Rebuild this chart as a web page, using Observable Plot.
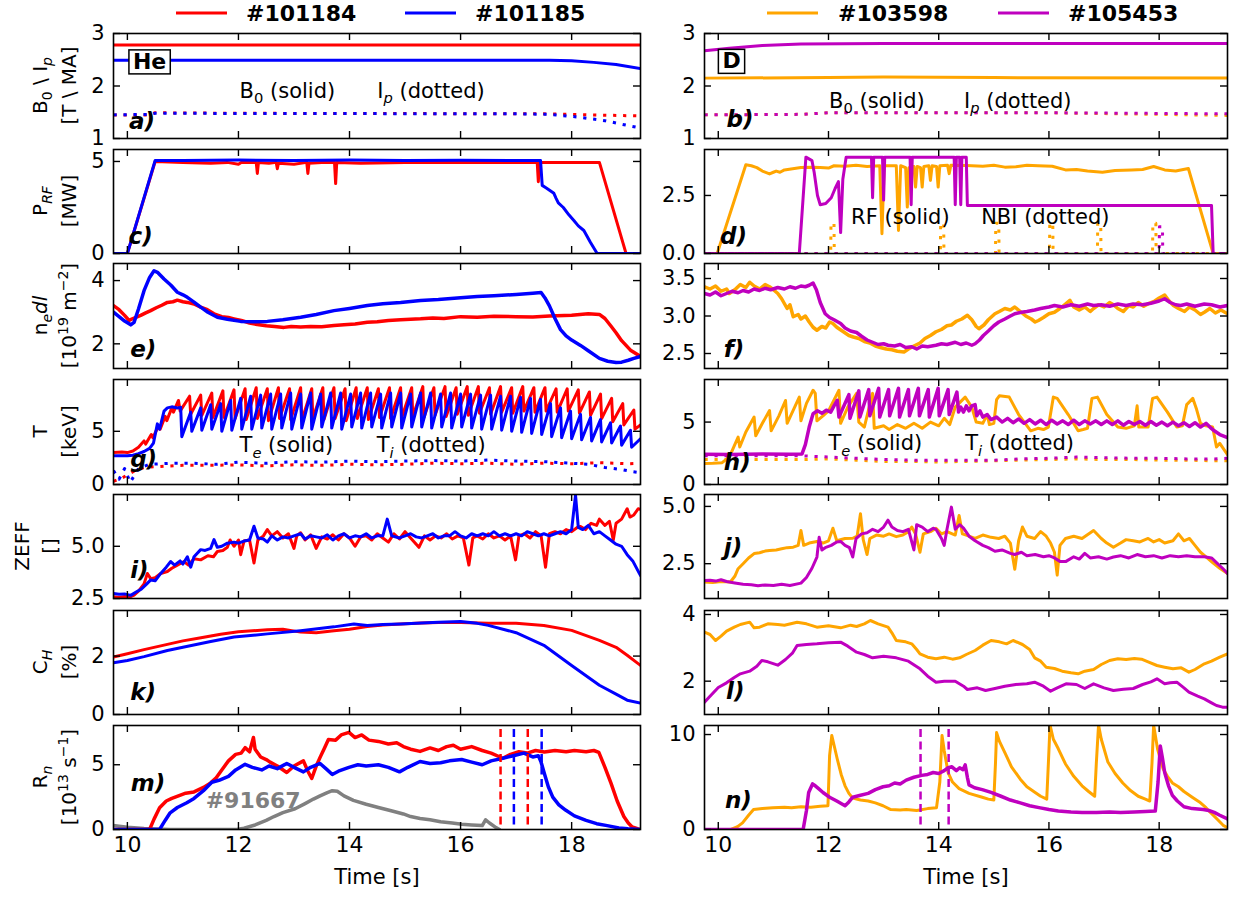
<!DOCTYPE html>
<html><head><meta charset="utf-8">
<script src="https://cdn.jsdelivr.net/npm/d3@7"></script>
<script src="https://cdn.jsdelivr.net/npm/@observablehq/plot@0.6"></script>
<style>
html,body{margin:0;padding:0;background:#fff;}
#root{position:relative;width:1239px;height:897px;overflow:hidden;font-family:"DejaVu Sans",sans-serif;background:#fff;}
#root svg{position:absolute;overflow:visible;}
</style></head><body><div id="root"></div>
<script>
// ---------------- DATA (time [s], value) ----------------
const shots = ["#101184", "#101185", "#103598", "#105453"];
const xTicks = [10, 12, 14, 16, 18];

// a) B0 / Ip (He)
const B0_101184 = [[9.75,2.78],[19.24,2.78]];
const B0_101185 = [[9.75,2.49],[17.6,2.49],[18.0,2.48],[18.4,2.45],[18.8,2.41],[19.24,2.33]];
const Ip_101184 = [[9.75,1.45],[10.4,1.45],[10.5,1.49],[12,1.48],[17.5,1.47],[18.3,1.45],[19.24,1.43]];
const Ip_101185 = [[9.75,1.45],[10.4,1.46],[10.5,1.48],[17.0,1.47],[17.6,1.46],[18.1,1.41],[18.6,1.34],[19.0,1.25],[19.24,1.2]];
// b) B0 / Ip (D)
const B0_103598 = [[9.75,2.15],[12,2.16],[13,2.17],[15,2.16],[19.24,2.15]];
const B0_105453 = [[9.75,2.67],[10.2,2.72],[10.8,2.77],[11.5,2.8],[13,2.81],[19.24,2.81]];
const Ip_103598 = [[9.75,1.45],[11.5,1.46],[12,1.49],[16,1.49],[19.24,1.44]];
const Ip_105453 = [[9.75,1.45],[11.5,1.46],[12,1.49],[16,1.49],[19.24,1.47]];
// c) P_RF
const PRF_101184 = [[9.75,0],[10.0,0],[10.5,5.0],[11.0,4.95],[11.5,4.9],[11.8,4.95],[12.0,4.85],[12.05,4.95],[12.32,4.95],[12.34,4.35],[12.36,4.95],[12.55,4.9],[12.68,4.95],[12.7,4.6],[12.72,4.9],[13.0,4.85],[13.23,4.95],[13.25,4.35],[13.27,4.9],[13.5,4.95],[13.73,4.95],[13.75,3.8],[13.77,4.95],[14.2,4.9],[15,4.95],[16,4.95],[17.38,4.95],[17.4,3.9],[17.42,4.95],[18.0,4.95],[18.5,4.95],[18.98,0],[19.24,0]];
const PRF_101185 = [[9.75,0],[10.0,0],[10.5,5.05],[11,5.05],[12,5.08],[13,5.05],[14,5.08],[15,5.05],[16,5.07],[17,5.05],[17.44,5.05],[17.47,3.7],[17.55,3.55],[17.68,3.27],[17.72,3.0],[17.76,2.75],[17.85,2.5],[17.95,2.1],[18.04,1.79],[18.12,1.5],[18.22,1.25],[18.34,0.6],[18.46,0],[19.24,0]];
// d) RF (solid) and NBI (dotted)
const RF_103598 = [[9.75,0],[9.98,0],[10.5,3.82],[10.6,3.78],[10.7,3.7],[10.8,3.55],[10.93,3.43],[11.0,3.5],[11.05,3.55],[11.12,3.5],[11.2,3.6],[11.35,3.65],[11.5,3.7],[11.7,3.72],[11.85,3.7],[12.0,3.68],[12.1,3.78],[12.3,3.76],[12.5,3.8],[12.7,3.75],[12.93,3.78],[12.97,0.85],[13.01,3.78],[13.23,3.78],[13.27,0.99],[13.31,3.78],[13.4,3.7],[13.43,2.0],[13.46,3.7],[13.55,3.75],[13.58,2.86],[13.61,3.75],[13.67,3.7],[13.7,2.86],[13.73,3.75],[13.82,3.78],[13.85,3.15],[13.88,3.78],[13.96,3.75],[13.99,2.86],[14.02,3.78],[14.16,3.8],[14.19,3.44],[14.22,3.8],[14.5,3.79],[14.8,3.76],[15.0,3.8],[15.2,3.72],[15.4,3.74],[15.6,3.8],[15.8,3.78],[16.06,3.76],[16.3,3.6],[16.5,3.62],[16.7,3.55],[16.97,3.5],[17.2,3.58],[17.5,3.6],[17.7,3.62],[17.9,3.75],[18.1,3.6],[18.3,3.55],[18.53,3.66],[18.98,0],[19.24,0]];
const RF_105453 = [[9.75,0],[11.47,0],[11.59,4.15],[11.7,4.0],[11.74,3.5],[11.8,2.5],[11.85,2.1],[11.95,2.15],[12.05,2.4],[12.12,2.8],[12.18,3.1],[12.22,0.9],[12.26,3.2],[12.32,4.15],[12.78,4.15],[12.8,2.4],[12.82,4.15],[12.98,4.15],[13.0,2.3],[13.02,4.15],[13.48,4.15],[13.5,2.1],[13.52,4.15],[14.28,4.15],[14.3,2.1],[14.32,4.15],[14.38,4.15],[14.4,2.1],[14.42,4.15],[14.5,4.15],[14.52,2.07],[18.95,2.07],[18.98,0],[19.24,0]];
const NBI_103598 = [[9.75,0],[12.04,0],[12.045,1.3],[12.1,1.3],[12.105,0],[14.03,0],[14.035,1.3],[14.09,1.3],[14.095,0],[15.03,0],[15.035,1.3],[15.09,1.3],[15.095,0],[16.01,0],[16.015,1.3],[16.07,1.3],[16.075,0],[16.88,0],[16.885,1.3],[16.94,1.3],[16.945,0],[17.88,0],[17.885,1.3],[17.94,1.3],[17.945,0],[19.24,0]];
const NBI_105453 = [[9.75,0],[18.0,0],[18.005,1.15],[18.06,1.15],[18.065,0],[19.24,0]];
// e) line density
const ne_101184 = [[9.75,3.21],[9.85,3.08],[9.95,2.9],[10.03,2.74],[10.1,2.8],[10.24,2.9],[10.33,2.98],[10.42,3.05],[10.52,3.14],[10.62,3.22],[10.72,3.31],[10.82,3.33],[10.9,3.38],[11.0,3.33],[11.08,3.31],[11.2,3.26],[11.32,3.16],[11.44,3.08],[11.56,2.95],[11.7,2.86],[11.82,2.83],[11.92,2.79],[12.05,2.74],[12.2,2.66],[12.34,2.61],[12.5,2.57],[12.65,2.55],[12.82,2.52],[12.95,2.55],[13.12,2.53],[13.3,2.55],[13.5,2.54],[13.72,2.58],[13.9,2.6],[14.1,2.63],[14.32,2.68],[14.5,2.7],[14.7,2.74],[14.92,2.76],[15.1,2.78],[15.28,2.79],[15.5,2.82],[15.7,2.8],[16.0,2.86],[16.3,2.84],[16.6,2.87],[17.0,2.86],[17.3,2.85],[17.6,2.88],[18.0,2.9],[18.3,2.95],[18.5,2.93],[18.6,2.8],[18.7,2.58],[18.8,2.35],[18.9,2.1],[19.06,1.8],[19.24,1.6]];
const ne_101185 = [[9.75,3.0],[9.85,2.86],[9.95,2.72],[10.06,2.6],[10.12,2.68],[10.2,3.1],[10.3,3.68],[10.4,4.1],[10.48,4.31],[10.55,4.25],[10.66,4.05],[10.78,3.86],[10.9,3.63],[11.0,3.55],[11.08,3.47],[11.2,3.32],[11.32,3.16],[11.45,3.0],[11.62,2.84],[11.8,2.78],[12.04,2.71],[12.3,2.7],[12.52,2.71],[12.8,2.76],[13.12,2.84],[13.4,2.93],[13.72,3.05],[14.0,3.12],[14.32,3.21],[14.6,3.27],[14.92,3.31],[15.28,3.37],[15.6,3.4],[16.0,3.46],[16.3,3.5],[16.6,3.52],[17.0,3.56],[17.3,3.6],[17.45,3.62],[17.52,3.45],[17.6,3.2],[17.7,2.8],[17.8,2.45],[17.9,2.25],[18.0,2.12],[18.16,1.95],[18.3,1.78],[18.5,1.54],[18.65,1.45],[18.8,1.41],[18.9,1.42],[19.02,1.48],[19.12,1.54],[19.24,1.6]];
// f)
const ne_103598 = [[9.75,3.39],[9.85,3.36],[9.95,3.4],[10.05,3.33],[10.15,3.36],[10.2,3.3],[10.3,3.35],[10.4,3.42],[10.5,3.38],[10.57,3.45],[10.65,3.4],[10.75,3.36],[10.85,3.42],[10.93,3.39],[11.0,3.35],[11.08,3.3],[11.15,3.23],[11.25,3.1],[11.3,3.15],[11.36,2.99],[11.45,3.02],[11.5,2.96],[11.58,3.0],[11.65,2.92],[11.72,2.85],[11.79,2.81],[11.88,2.86],[11.95,2.84],[12.02,2.92],[12.08,2.9],[12.15,2.85],[12.25,2.8],[12.37,2.74],[12.45,2.72],[12.55,2.7],[12.65,2.66],[12.75,2.64],[12.85,2.6],[12.94,2.58],[13.05,2.56],[13.15,2.55],[13.25,2.53],[13.37,2.52],[13.45,2.56],[13.55,2.6],[13.66,2.64],[13.75,2.7],[13.85,2.74],[13.95,2.79],[14.05,2.82],[14.15,2.87],[14.23,2.88],[14.32,2.93],[14.42,2.96],[14.52,3.01],[14.6,2.95],[14.68,2.86],[14.73,2.83],[14.82,2.88],[14.9,2.95],[15.02,3.03],[15.1,3.06],[15.2,3.1],[15.3,3.08],[15.38,3.12],[15.48,3.06],[15.58,3.0],[15.68,2.96],[15.75,2.92],[15.81,2.94],[15.9,2.98],[16.0,3.03],[16.1,3.05],[16.2,3.1],[16.3,3.16],[16.38,3.21],[16.45,3.12],[16.55,3.08],[16.65,3.12],[16.75,3.06],[16.81,3.1],[16.9,3.15],[17.0,3.12],[17.1,3.18],[17.17,3.15],[17.25,3.1],[17.35,3.06],[17.45,3.14],[17.53,3.12],[17.62,3.18],[17.72,3.13],[17.82,3.17],[17.92,3.2],[18.0,3.24],[18.1,3.28],[18.18,3.2],[18.26,3.14],[18.35,3.1],[18.46,3.06],[18.55,3.12],[18.65,3.08],[18.75,3.02],[18.82,3.05],[18.92,3.1],[19.02,3.04],[19.12,3.08],[19.24,3.03]];
const ne_105453 = [[9.75,3.3],[9.85,3.28],[9.95,3.32],[10.05,3.27],[10.15,3.3],[10.25,3.33],[10.36,3.31],[10.45,3.34],[10.55,3.32],[10.65,3.36],[10.75,3.34],[10.85,3.37],[10.95,3.35],[11.08,3.38],[11.2,3.36],[11.3,3.39],[11.4,3.37],[11.5,3.4],[11.58,3.39],[11.65,3.41],[11.72,3.44],[11.78,3.35],[11.85,3.18],[11.94,3.03],[12.02,2.98],[12.1,2.95],[12.22,2.9],[12.3,2.84],[12.4,2.8],[12.51,2.78],[12.6,2.73],[12.7,2.68],[12.8,2.65],[12.9,2.62],[13.0,2.63],[13.08,2.61],[13.2,2.6],[13.3,2.62],[13.4,2.58],[13.51,2.59],[13.6,2.56],[13.7,2.6],[13.8,2.59],[13.95,2.61],[14.05,2.63],[14.15,2.62],[14.3,2.65],[14.4,2.62],[14.5,2.64],[14.6,2.61],[14.66,2.63],[14.74,2.68],[14.81,2.74],[14.9,2.8],[15.0,2.87],[15.09,2.92],[15.2,2.96],[15.3,3.0],[15.38,3.03],[15.5,3.05],[15.6,3.06],[15.74,3.08],[15.85,3.1],[16.0,3.12],[16.1,3.14],[16.25,3.12],[16.4,3.15],[16.55,3.13],[16.7,3.16],[16.81,3.14],[16.95,3.15],[17.1,3.13],[17.25,3.16],[17.4,3.14],[17.53,3.16],[17.7,3.15],[17.85,3.17],[18.0,3.2],[18.1,3.23],[18.2,3.18],[18.3,3.15],[18.39,3.14],[18.5,3.16],[18.65,3.13],[18.82,3.16],[18.95,3.15],[19.1,3.12],[19.24,3.14]];
// g) Te (solid), Ti (dotted)
const Te_101184 = [[9.75,3.0],[9.9,3.05],[10.0,3.0],[10.1,3.15],[10.2,3.5],[10.3,4.1],[10.33,3.8],[10.43,4.7],[10.46,4.4],[10.56,5.5],[10.59,5.2],[10.68,6.4],[10.71,6.0],[10.8,7.2],[10.83,6.8],[10.92,7.9],[10.95,6.9],[11.12,8.3],[11.14,6.6],[11.32,8.4],[11.34,6.5],[11.52,8.6],[11.54,6.3],[11.72,8.8],[11.74,6.3],[11.92,8.9],[11.94,6.2],[12.12,9.0],[12.14,6.1],[12.32,9.1],[12.34,6.2],[12.52,9.0],[12.54,6.0],[12.72,9.1],[12.74,6.2],[12.92,9.0],[12.94,6.1],[13.12,9.1],[13.14,6.0],[13.32,9.0],[13.34,6.2],[13.52,9.1],[13.54,6.1],[13.72,9.1],[13.74,6.2],[13.92,9.0],[13.94,6.0],[14.12,9.1],[14.14,6.2],[14.32,9.1],[14.34,6.1],[14.52,9.0],[14.54,6.3],[14.72,9.1],[14.74,6.2],[14.92,9.1],[14.94,6.3],[15.12,9.1],[15.14,6.4],[15.32,9.2],[15.34,6.3],[15.52,9.1],[15.54,6.5],[15.72,9.2],[15.74,6.4],[15.92,9.1],[15.94,6.6],[16.12,9.2],[16.14,6.5],[16.32,9.2],[16.34,6.7],[16.52,9.1],[16.54,6.6],[16.72,9.2],[16.74,6.8],[16.92,9.1],[16.94,6.7],[17.12,9.2],[17.14,6.9],[17.32,9.1],[17.34,6.8],[17.52,9.1],[17.54,6.9],[17.72,9.0],[17.74,6.8],[17.92,9.0],[17.94,6.9],[18.12,8.9],[18.14,6.7],[18.32,8.7],[18.34,6.5],[18.52,8.5],[18.54,6.2],[18.72,8.1],[18.74,5.9],[18.92,7.6],[18.94,5.6],[19.12,7.0],[19.14,5.2],[19.24,5.6]];
const Te_101185 = [[9.75,2.7],[10.0,2.7],[10.1,2.75],[10.2,2.9],[10.3,3.1],[10.4,3.4],[10.47,3.9],[10.54,5.7],[10.58,5.2],[10.66,6.9],[10.72,7.2],[10.8,7.3],[10.9,7.2],[10.96,7.25],[10.98,4.5],[11.14,6.8],[11.16,5.0],[11.32,7.2],[11.34,5.1],[11.5,7.5],[11.52,5.2],[11.68,7.6],[11.7,5.0],[11.86,7.9],[11.88,5.1],[12.04,8.1],[12.06,5.2],[12.22,8.3],[12.24,5.2],[12.4,8.4],[12.42,5.3],[12.58,8.5],[12.6,5.2],[12.76,8.5],[12.78,5.3],[12.94,8.6],[12.96,5.2],[13.12,8.5],[13.14,5.3],[13.3,8.6],[13.32,5.2],[13.48,8.5],[13.5,5.4],[13.66,8.6],[13.68,5.3],[13.84,8.6],[13.86,5.2],[14.02,8.5],[14.04,5.4],[14.2,8.6],[14.22,5.3],[14.38,8.6],[14.4,5.4],[14.56,8.5],[14.58,5.3],[14.74,8.6],[14.76,5.4],[14.92,8.6],[14.94,5.3],[15.1,8.5],[15.12,5.4],[15.28,8.6],[15.3,5.4],[15.46,8.6],[15.48,5.3],[15.64,8.5],[15.66,5.4],[15.82,8.6],[15.84,5.3],[16.0,8.5],[16.02,5.4],[16.18,8.5],[16.2,5.3],[16.36,8.4],[16.38,5.2],[16.54,8.4],[16.56,5.2],[16.72,8.3],[16.74,5.1],[16.9,8.3],[16.92,5.0],[17.08,8.2],[17.1,4.9],[17.26,8.1],[17.28,4.8],[17.44,8.0],[17.46,4.7],[17.62,7.6],[17.64,4.5],[17.8,7.2],[17.82,4.4],[17.98,6.9],[18.0,4.3],[18.16,6.6],[18.18,4.2],[18.34,6.3],[18.36,4.1],[18.52,6.1],[18.54,4.0],[18.7,5.8],[18.72,3.9],[18.88,5.5],[18.9,3.7],[19.06,5.1],[19.08,3.5],[19.24,4.3]];
const Ti_101184 = [[9.75,0.3],[9.9,0.6],[10.1,1.2],[10.3,1.6],[10.6,1.7],[11,1.8],[11.5,1.8],[12,1.85],[12.5,1.75],[13,1.85],[13.5,1.8],[14,1.9],[14.5,1.85],[15,1.9],[15.5,2.0],[16,1.95],[16.5,2.0],[17,1.9],[17.5,2.0],[18,1.95],[18.5,2.05],[19,1.95],[19.24,2.0]];
const Ti_101185 = [[9.75,1.3],[9.85,0.5],[9.95,1.5],[10.05,0.2],[10.2,1.5],[10.4,1.9],[10.8,2.0],[11.2,2.0],[11.6,1.9],[12,2.1],[12.5,2.0],[13,2.15],[13.5,2.1],[14,2.2],[14.5,2.15],[15,2.2],[15.5,2.25],[16,2.2],[16.5,2.3],[17,2.2],[17.5,2.15],[18,2.0],[18.3,1.9],[18.6,1.6],[18.9,1.4],[19.1,1.2],[19.24,1.1]];
// h)
const Te_103598 = [[9.75,1.68],[9.9,1.7],[10.07,1.75],[10.2,2.2],[10.36,3.8],[10.39,3.0],[10.5,4.2],[10.65,5.4],[10.68,3.9],[10.8,4.9],[10.93,5.93],[10.96,4.3],[11.1,5.5],[11.22,6.73],[11.25,4.9],[11.47,7.0],[11.5,5.1],[11.6,6.5],[11.72,7.55],[11.76,7.3],[11.79,5.1],[11.9,5.5],[12.0,5.9],[12.19,7.55],[12.22,4.9],[12.35,6.2],[12.51,7.3],[12.55,5.0],[12.65,4.6],[12.8,7.3],[12.83,4.5],[13.0,4.7],[13.1,4.4],[13.25,4.8],[13.4,4.5],[13.55,4.9],[13.7,4.5],[13.85,5.0],[14.0,4.7],[14.1,5.3],[14.2,4.8],[14.3,6.2],[14.48,7.0],[14.6,6.2],[14.68,5.0],[14.8,4.9],[14.88,5.6],[14.92,4.8],[15.0,4.9],[15.05,6.8],[15.1,7.1],[15.28,7.0],[15.45,5.6],[15.67,4.3],[15.8,4.5],[15.9,4.4],[15.99,4.6],[16.08,7.0],[16.15,6.9],[16.35,5.6],[16.53,4.3],[16.62,4.4],[16.7,4.5],[16.78,6.9],[16.88,7.0],[17.05,5.6],[17.25,4.6],[17.4,4.5],[17.55,4.7],[17.6,6.3],[17.63,4.6],[17.8,4.6],[17.88,6.9],[17.96,7.0],[18.15,5.8],[18.32,4.6],[18.42,4.7],[18.5,6.4],[18.61,6.9],[18.68,6.0],[18.75,4.9],[18.85,4.7],[18.97,4.6],[19.04,3.0],[19.1,3.3],[19.24,2.4]];
const Te_105453 = [[9.75,2.42],[10.2,2.4],[10.8,2.44],[11.3,2.42],[11.52,2.45],[11.58,3.2],[11.65,4.6],[11.72,5.67],[11.8,5.9],[11.88,5.7],[11.96,5.95],[12.04,5.8],[12.1,6.3],[12.16,6.75],[12.19,5.4],[12.37,7.2],[12.39,5.3],[12.55,7.5],[12.57,5.4],[12.73,7.6],[12.75,5.5],[12.91,7.7],[12.93,5.4],[13.09,7.6],[13.11,5.5],[13.27,7.7],[13.29,5.4],[13.45,7.6],[13.47,5.5],[13.63,7.7],[13.65,5.5],[13.81,7.6],[13.83,5.4],[13.99,7.7],[14.01,5.5],[14.17,7.6],[14.19,5.6],[14.33,7.4],[14.36,5.8],[14.4,6.2],[14.45,5.8],[14.5,6.3],[14.55,5.9],[14.6,6.3],[14.66,6.4],[14.69,5.5],[14.75,5.9],[14.8,5.4],[14.88,5.6],[14.95,5.2],[15.05,5.4],[15.15,5.0],[15.25,5.3],[15.35,4.95],[15.45,5.25],[15.55,4.9],[15.65,5.2],[15.75,4.85],[15.85,5.15],[15.95,4.8],[16.05,5.15],[16.15,4.85],[16.25,5.1],[16.35,4.8],[16.45,5.15],[16.55,4.8],[16.65,5.1],[16.75,4.85],[16.85,5.1],[16.95,4.8],[17.05,5.1],[17.15,4.8],[17.25,5.1],[17.35,4.75],[17.45,5.05],[17.55,4.8],[17.65,5.05],[17.75,4.75],[17.85,5.05],[17.95,4.75],[18.05,5.0],[18.15,4.7],[18.25,5.0],[18.35,4.7],[18.45,4.95],[18.55,4.65],[18.65,4.95],[18.75,4.6],[18.85,4.9],[18.92,4.6],[19.0,4.3],[19.1,4.0],[19.24,3.75]];
const Ti_103598 = [[9.75,2.0],[11.5,2.0],[12,2.05],[12.5,1.95],[13,1.85],[13.5,1.85],[14,1.8],[14.5,1.85],[15,1.9],[15.5,1.95],[16,2.0],[16.5,2.05],[17,2.0],[17.5,2.0],[18,1.95],[18.5,1.95],[19,1.9],[19.24,1.9]];
const Ti_105453 = [[9.75,2.3],[11.5,2.3],[12,2.2],[12.5,2.1],[13,2.0],[13.5,1.95],[14,1.95],[14.5,1.95],[15,1.95],[15.5,2.05],[16,2.1],[16.5,2.2],[17,2.15],[17.5,2.1],[18,2.1],[18.5,2.05],[19,2.05],[19.24,2.1]];
// i) ZEFF
const Z_101184 = [[9.75,2.58],[9.85,2.55],[9.95,2.6],[10.05,2.58],[10.12,2.66],[10.2,2.85],[10.3,3.2],[10.36,3.7],[10.42,3.45],[10.5,3.5],[10.6,3.7],[10.72,3.79],[10.8,3.95],[10.9,4.1],[11.02,4.27],[11.1,4.1],[11.2,4.4],[11.32,4.35],[11.45,4.55],[11.55,4.5],[11.62,4.75],[11.72,4.8],[11.8,4.95],[11.85,5.3],[11.92,5.0],[12.0,5.3],[12.04,4.6],[12.1,5.25],[12.2,5.3],[12.28,4.2],[12.35,5.3],[12.45,5.5],[12.52,5.8],[12.6,5.5],[12.7,5.7],[12.8,5.4],[12.9,5.6],[13.0,4.9],[13.05,5.5],[13.12,5.65],[13.2,5.3],[13.3,5.55],[13.4,4.9],[13.5,5.45],[13.6,5.35],[13.7,5.55],[13.8,5.3],[13.9,5.6],[14.0,5.4],[14.1,5.0],[14.2,5.45],[14.3,5.5],[14.4,5.3],[14.5,5.6],[14.6,5.4],[14.7,5.2],[14.8,5.6],[14.9,5.35],[15.0,5.7],[15.1,5.4],[15.25,4.95],[15.35,5.5],[15.45,5.3],[15.55,5.5],[15.65,5.4],[15.75,5.6],[15.85,5.35],[15.95,5.5],[16.05,5.4],[16.15,4.1],[16.22,5.4],[16.3,5.5],[16.4,5.35],[16.5,5.6],[16.6,5.4],[16.7,5.5],[16.8,5.3],[16.9,5.5],[16.99,4.35],[17.05,5.5],[17.15,5.6],[17.25,5.4],[17.35,5.7],[17.45,5.5],[17.53,4.0],[17.6,5.6],[17.7,5.7],[17.8,5.6],[17.9,5.8],[18.0,5.7],[18.1,5.9],[18.16,5.95],[18.25,5.8],[18.35,6.1],[18.45,6.0],[18.5,6.3],[18.6,6.0],[18.68,6.2],[18.75,5.3],[18.8,6.1],[18.9,6.3],[19.0,6.8],[19.05,6.4],[19.12,6.5],[19.2,6.8],[19.24,6.77]];
const Z_101185 = [[9.75,2.74],[9.85,2.7],[9.95,2.72],[10.06,2.65],[10.15,2.8],[10.25,2.95],[10.35,3.2],[10.42,3.39],[10.5,3.35],[10.6,3.7],[10.7,4.0],[10.78,4.27],[10.85,4.1],[10.95,4.3],[11.0,4.15],[11.08,4.5],[11.14,4.0],[11.2,4.5],[11.32,4.84],[11.4,4.8],[11.5,4.9],[11.56,5.32],[11.62,4.95],[11.7,5.0],[11.8,5.15],[11.92,5.2],[12.0,5.15],[12.1,5.25],[12.2,5.3],[12.28,5.96],[12.35,5.4],[12.45,5.35],[12.52,5.2],[12.6,5.5],[12.7,5.3],[12.8,5.45],[12.9,5.4],[13.0,5.5],[13.12,5.6],[13.2,5.35],[13.3,5.5],[13.4,5.45],[13.5,5.4],[13.6,5.55],[13.7,5.3],[13.8,5.5],[13.9,5.6],[14.0,5.4],[14.1,5.5],[14.2,5.45],[14.3,5.6],[14.4,5.4],[14.5,5.5],[14.6,5.5],[14.68,6.3],[14.76,5.5],[14.9,5.4],[15.0,5.5],[15.1,5.6],[15.2,5.45],[15.3,5.4],[15.4,5.5],[15.5,5.6],[15.6,5.4],[15.7,5.5],[15.8,5.5],[15.9,5.7],[16.0,5.5],[16.1,5.4],[16.2,5.6],[16.3,5.5],[16.4,5.6],[16.5,5.5],[16.6,5.7],[16.7,5.5],[16.8,5.6],[16.9,5.5],[17.0,5.6],[17.1,5.5],[17.2,5.7],[17.3,5.6],[17.4,5.5],[17.5,5.6],[17.6,5.5],[17.7,5.6],[17.8,5.7],[17.9,5.6],[18.0,5.8],[18.07,7.45],[18.12,5.9],[18.2,5.8],[18.3,6.0],[18.4,5.6],[18.5,5.7],[18.6,5.5],[18.7,5.3],[18.8,5.1],[18.9,5.0],[19.0,4.6],[19.1,4.3],[19.24,3.6]];
// j)
const Z_103598 = [[9.75,1.7],[9.9,1.68],[10.05,1.72],[10.22,1.7],[10.3,1.95],[10.36,2.28],[10.45,2.5],[10.55,2.75],[10.65,2.94],[10.75,2.98],[10.85,3.05],[10.93,3.08],[11.05,3.1],[11.15,3.15],[11.25,3.2],[11.36,3.22],[11.45,3.3],[11.5,3.95],[11.55,3.3],[11.65,3.4],[11.79,3.47],[11.9,3.4],[12.0,3.5],[12.08,4.05],[12.15,3.5],[12.3,3.6],[12.44,3.61],[12.52,3.7],[12.58,4.68],[12.63,3.55],[12.7,2.9],[12.75,3.6],[12.87,3.75],[13.0,3.7],[13.1,3.8],[13.23,3.68],[13.35,3.75],[13.45,3.9],[13.51,4.1],[13.58,3.8],[13.66,3.0],[13.72,3.8],[13.85,3.9],[13.95,4.05],[14.05,3.8],[14.15,3.9],[14.3,3.75],[14.37,4.6],[14.43,3.8],[14.55,3.7],[14.66,3.6],[14.8,3.75],[14.95,3.65],[15.09,3.6],[15.2,3.7],[15.3,3.4],[15.38,2.26],[15.45,3.5],[15.52,4.1],[15.6,3.7],[15.74,3.6],[15.85,3.9],[15.95,3.7],[16.03,3.4],[16.1,3.0],[16.15,2.0],[16.2,3.3],[16.3,3.6],[16.45,3.7],[16.6,3.6],[16.81,3.95],[16.95,3.6],[17.05,3.4],[17.17,3.22],[17.3,3.4],[17.4,3.55],[17.53,3.5],[17.65,3.45],[17.8,3.6],[17.9,3.45],[18.0,3.55],[18.1,3.4],[18.25,3.5],[18.35,3.8],[18.45,3.5],[18.55,3.6],[18.65,3.3],[18.75,3.0],[18.85,2.8],[18.97,2.55],[19.1,2.3],[19.24,2.07]];
const Z_105453 = [[9.75,1.77],[9.85,1.78],[9.95,1.74],[10.05,1.8],[10.15,1.72],[10.3,1.66],[10.45,1.6],[10.6,1.58],[10.72,1.54],[10.85,1.57],[11.0,1.55],[11.15,1.6],[11.3,1.55],[11.5,1.65],[11.6,1.9],[11.7,2.3],[11.79,2.79],[11.83,3.65],[11.88,3.1],[11.94,3.2],[12.05,3.3],[12.15,3.45],[12.22,3.47],[12.3,3.3],[12.38,3.2],[12.44,2.79],[12.5,3.6],[12.6,3.8],[12.7,3.85],[12.8,4.0],[12.9,3.9],[13.0,4.1],[13.08,4.4],[13.15,4.1],[13.25,3.95],[13.35,3.9],[13.45,4.0],[13.55,3.1],[13.6,4.2],[13.7,4.1],[13.8,3.9],[13.9,4.05],[13.95,4.0],[14.05,3.6],[14.1,3.3],[14.15,4.0],[14.23,4.97],[14.3,4.0],[14.38,4.2],[14.45,4.05],[14.55,3.7],[14.66,3.5],[14.8,3.3],[14.9,3.2],[15.02,3.04],[15.15,3.1],[15.3,2.95],[15.38,2.9],[15.5,3.0],[15.6,2.85],[15.75,2.9],[15.9,2.8],[16.0,2.85],[16.1,2.75],[16.2,2.6],[16.31,2.6],[16.45,2.8],[16.55,2.7],[16.65,2.95],[16.75,2.75],[16.9,2.8],[17.05,2.7],[17.17,2.79],[17.3,2.85],[17.45,2.75],[17.6,2.9],[17.75,2.8],[17.9,2.85],[18.05,2.75],[18.2,2.85],[18.35,2.8],[18.5,2.85],[18.65,2.8],[18.82,2.8],[18.95,2.75],[19.04,2.55],[19.15,2.3],[19.24,2.07]];
// k) C_H
const CH_101184 = [[9.75,1.97],[10.0,2.08],[10.3,2.22],[10.72,2.4],[11.0,2.52],[11.3,2.62],[11.68,2.75],[12.0,2.83],[12.52,2.9],[12.8,2.92],[13.12,2.82],[13.4,2.8],[13.72,2.87],[14.0,2.92],[14.32,3.01],[14.6,3.06],[14.92,3.1],[15.3,3.13],[15.6,3.15],[16.0,3.15],[16.5,3.12],[17.0,3.12],[17.5,3.05],[18.0,2.88],[18.5,2.54],[18.8,2.3],[19.0,2.03],[19.24,1.68]];
const CH_101185 = [[9.75,1.77],[10.0,1.85],[10.3,1.98],[10.72,2.19],[11.0,2.3],[11.5,2.5],[11.92,2.65],[12.52,2.76],[13.12,2.87],[13.72,3.0],[14.08,3.1],[14.32,3.05],[14.6,3.08],[14.92,3.1],[15.3,3.13],[15.6,3.16],[16.0,3.18],[16.3,3.12],[16.5,3.05],[17.0,2.8],[17.5,2.37],[18.0,1.68],[18.5,1.0],[18.8,0.7],[19.0,0.49],[19.24,0.39]];
// l)
const CH_103598 = [[9.75,3.47],[9.85,3.4],[9.95,3.22],[10.05,3.35],[10.15,3.5],[10.29,3.62],[10.4,3.7],[10.57,3.77],[10.65,3.6],[10.75,3.62],[10.9,3.72],[11.08,3.7],[11.2,3.68],[11.43,3.77],[11.6,3.72],[11.79,3.62],[12.0,3.66],[12.22,3.6],[12.4,3.68],[12.51,3.64],[12.65,3.72],[12.76,3.82],[12.9,3.72],[13.08,3.62],[13.15,3.45],[13.23,3.22],[13.4,3.18],[13.51,3.12],[13.6,2.95],[13.66,2.82],[13.8,2.72],[13.95,2.67],[14.1,2.72],[14.25,2.66],[14.38,2.7],[14.5,2.8],[14.66,2.92],[14.8,3.08],[14.95,3.22],[15.1,3.18],[15.23,3.12],[15.35,3.22],[15.52,3.1],[15.65,2.95],[15.74,2.7],[15.85,2.6],[15.95,2.42],[16.1,2.38],[16.24,2.3],[16.4,2.25],[16.53,2.22],[16.65,2.3],[16.81,2.35],[16.95,2.5],[17.1,2.62],[17.25,2.67],[17.4,2.65],[17.55,2.68],[17.68,2.66],[17.8,2.58],[17.96,2.47],[18.1,2.42],[18.25,2.37],[18.4,2.4],[18.54,2.27],[18.65,2.35],[18.82,2.52],[18.95,2.6],[19.1,2.72],[19.24,2.82]];
const CH_105453 = [[9.75,1.37],[9.85,1.55],[10.0,1.81],[10.15,1.95],[10.29,2.11],[10.4,2.22],[10.57,2.3],[10.7,2.45],[10.79,2.62],[10.9,2.58],[11.08,2.48],[11.22,2.65],[11.35,2.85],[11.43,3.07],[11.6,3.1],[11.79,3.12],[12.0,3.15],[12.22,3.17],[12.35,3.05],[12.51,2.87],[12.65,2.8],[12.8,2.7],[13.0,2.75],[13.23,2.7],[13.45,2.6],[13.66,2.37],[13.8,2.15],[13.95,1.97],[14.1,2.0],[14.3,2.0],[14.45,1.85],[14.52,1.75],[14.7,1.8],[14.85,1.72],[15.02,1.78],[15.2,1.85],[15.4,1.9],[15.6,1.92],[15.74,1.97],[15.9,1.85],[16.03,1.7],[16.15,1.8],[16.31,1.92],[16.5,1.9],[16.65,1.78],[16.81,1.92],[17.0,1.8],[17.17,1.72],[17.35,1.76],[17.53,1.78],[17.7,1.9],[17.85,1.98],[17.96,2.07],[18.1,1.92],[18.2,1.95],[18.32,1.97],[18.45,1.8],[18.54,1.67],[18.7,1.55],[18.82,1.47],[18.95,1.35],[19.04,1.27],[19.15,1.22],[19.24,1.22]];
// m) neutron rate
const Rn_101184 = [[9.75,0],[10.4,0],[10.48,0.8],[10.58,1.68],[10.7,2.2],[10.8,2.4],[10.92,2.59],[11.05,2.8],[11.2,2.9],[11.37,3.25],[11.5,3.6],[11.6,4.0],[11.7,4.6],[11.82,5.3],[11.95,5.8],[12.05,5.9],[12.12,6.32],[12.2,6.0],[12.27,7.1],[12.3,6.2],[12.4,5.6],[12.5,5.4],[12.57,5.2],[12.7,4.9],[12.87,4.4],[13.0,4.9],[13.17,5.3],[13.25,4.5],[13.32,3.94],[13.4,4.9],[13.47,5.57],[13.55,6.3],[13.62,6.95],[13.75,6.9],[13.85,7.3],[13.99,7.5],[14.1,7.1],[14.22,7.3],[14.35,6.9],[14.52,6.8],[14.7,6.6],[14.85,6.7],[14.97,6.4],[15.1,6.2],[15.27,6.03],[15.45,6.3],[15.6,6.1],[15.75,6.4],[15.87,6.5],[16.0,6.2],[16.2,6.4],[16.39,6.1],[16.55,5.9],[16.76,5.5],[16.9,5.8],[17.05,6.0],[17.2,5.9],[17.35,6.1],[17.51,5.98],[17.7,6.1],[17.9,6.0],[18.05,6.1],[18.26,6.0],[18.4,6.1],[18.49,5.95],[18.6,4.8],[18.71,3.56],[18.82,2.2],[18.94,1.0],[19.02,0.5],[19.09,0.2],[19.2,0.05],[19.24,0]];
const Rn_101185 = [[9.75,0],[10.58,0],[10.68,0.7],[10.77,1.29],[10.9,1.7],[11.07,2.07],[11.2,2.4],[11.37,3.0],[11.52,3.65],[11.65,3.8],[11.82,4.1],[11.95,4.6],[12.12,5.03],[12.25,4.8],[12.42,4.6],[12.55,4.9],[12.7,4.7],[12.87,5.1],[13.0,4.8],[13.17,4.45],[13.3,4.8],[13.47,5.1],[13.6,4.6],[13.69,4.25],[13.8,4.5],[13.99,4.8],[14.15,5.0],[14.3,4.9],[14.52,5.0],[14.7,4.8],[14.9,4.45],[15.05,4.8],[15.27,5.25],[15.45,5.1],[15.64,5.15],[15.8,5.3],[16.02,5.4],[16.2,5.2],[16.39,5.0],[16.55,5.3],[16.76,5.5],[16.95,5.7],[17.14,5.9],[17.3,5.6],[17.4,5.7],[17.45,5.2],[17.51,4.3],[17.58,3.3],[17.66,2.5],[17.77,1.9],[17.89,1.5],[18.05,1.05],[18.26,0.7],[18.45,0.45],[18.64,0.3],[18.85,0.12],[19.01,0.05],[19.24,0]];
const Rn_91667 = [[9.75,0.3],[9.85,0.26],[10.0,0.18],[10.3,0.08],[10.77,0],[11.97,0],[12.1,0.1],[12.3,0.35],[12.5,0.7],[12.64,1.0],[12.8,1.3],[13.02,1.6],[13.2,2.0],[13.35,2.35],[13.47,2.6],[13.6,2.85],[13.69,3.0],[13.78,2.95],[13.9,2.6],[14.07,2.25],[14.3,1.95],[14.52,1.7],[14.75,1.45],[14.97,1.2],[15.1,1.0],[15.27,0.85],[15.45,0.75],[15.64,0.6],[15.85,0.5],[16.02,0.4],[16.2,0.35],[16.39,0.3],[16.45,0.75],[16.52,0.5],[16.62,0.2],[16.7,0]];
const mDashRed = [16.72, 17.21];
const mDashBlue = [16.96, 17.46];
// n)
const Rn_103598 = [[9.75,0],[10.23,0],[10.35,0.3],[10.44,0.7],[10.55,1.5],[10.64,2.1],[10.8,2.2],[10.99,2.3],[11.2,2.35],[11.33,2.3],[11.5,2.4],[11.68,2.35],[11.85,2.45],[11.99,2.5],[12.02,7.8],[12.06,9.9],[12.1,8.9],[12.16,7.4],[12.23,5.8],[12.3,4.6],[12.37,3.8],[12.44,3.3],[12.58,3.1],[12.72,3.0],[12.85,2.8],[12.99,2.5],[13.13,2.1],[13.3,2.05],[13.41,2.1],[13.6,2.0],[13.8,2.2],[13.96,2.3],[14.02,5.0],[14.06,9.9],[14.1,8.3],[14.17,6.0],[14.25,5.0],[14.37,4.3],[14.55,3.8],[14.79,3.4],[14.9,3.2],[15.0,3.1],[15.03,7.0],[15.05,10.2],[15.1,9.3],[15.2,8.1],[15.32,6.6],[15.48,5.3],[15.6,4.5],[15.75,3.9],[15.85,3.5],[15.96,3.2],[15.99,7.0],[16.02,11.0],[16.08,9.5],[16.17,8.5],[16.3,6.9],[16.45,5.6],[16.6,4.6],[16.72,4.0],[16.83,3.5],[16.86,7.0],[16.9,11.0],[16.95,9.5],[17.07,7.1],[17.2,5.9],[17.34,4.9],[17.48,4.1],[17.62,3.5],[17.75,3.2],[17.83,3.0],[17.87,7.0],[17.9,11.0],[17.97,8.5],[18.07,6.4],[18.15,5.6],[18.24,4.9],[18.35,4.5],[18.45,4.0],[18.6,3.4],[18.73,2.9],[18.85,2.3],[18.93,1.8],[19.05,1.1],[19.17,0.4],[19.24,0.2]];
const Rn_105453 = [[9.75,0],[11.54,0],[11.6,2.0],[11.64,3.9],[11.71,4.8],[11.76,4.6],[11.82,4.3],[11.9,3.9],[12.02,3.4],[12.15,3.0],[12.3,2.5],[12.37,2.9],[12.44,3.4],[12.58,3.6],[12.72,3.8],[12.85,4.2],[12.99,4.5],[13.1,4.6],[13.2,4.9],[13.3,4.8],[13.41,5.2],[13.55,5.5],[13.69,5.7],[13.8,5.8],[13.9,6.0],[14.0,5.9],[14.1,6.2],[14.17,6.5],[14.24,6.6],[14.32,6.2],[14.38,6.5],[14.44,6.3],[14.48,6.8],[14.52,5.5],[14.55,4.7],[14.65,4.4],[14.79,4.2],[14.95,3.9],[15.13,3.5],[15.3,3.1],[15.48,2.8],[15.65,2.5],[15.82,2.3],[16.0,2.1],[16.17,1.95],[16.4,1.85],[16.6,1.8],[16.86,1.8],[17.1,1.85],[17.3,1.8],[17.55,1.85],[17.75,1.9],[17.93,1.95],[17.98,5.0],[18.02,8.8],[18.06,7.5],[18.1,6.0],[18.17,4.6],[18.24,3.6],[18.33,3.0],[18.45,2.4],[18.6,2.2],[18.8,2.1],[18.9,2.0],[19.0,1.8],[19.1,1.5],[19.21,1.2],[19.24,1.1]];
const nDashMag = [13.67, 14.18];

// ---------------- LAYOUT / STYLE ----------------
const RED = "#ff0000", BLUE = "#0000ff", ORANGE = "#ffa500", MAG = "#bf00bf", GRAY = "#808080";
const NS = "http://www.w3.org/2000/svg";
const FONT = '"DejaVu Sans", sans-serif';
const X_DOMAIN = [9.75, 19.24];
const COLS = [[113, 640], [704, 1227]];
const ROWS = [[33, 138], [149, 253], [263, 368], [379, 484], [494, 598], [610, 714], [725, 829]];
const DOT = "3.2,6.8";
const root = document.getElementById("root");
const fInt = d => String(d);
const f1 = d => d.toFixed(1);
const L = (data, color, w, dash) => ({data, color, w, dash});
const letter = (t, v, s) => ({t, v, s, weight: "bold", style: "italic", size: 23});

function drawPanel(p) {
  const [fl, fr] = COLS[p.col], [ft, fb] = ROWS[p.row];
  const fw = fr - fl, fh = fb - ft;
  const mL = 70, mR = 14, mT = 12, mB = p.bottom ? 70 : 12;
  const marks = [];
  for (const s of p.series) {
    const o = {x: d => d[0], y: d => d[1], stroke: s.color, strokeWidth: s.w || 3, clip: true, strokeLinejoin: "round"};
    if (s.dash) { o.strokeDasharray = s.dash; o.strokeLinecap = "butt"; }
    marks.push(Plot.line(s.data, o));
  }
  for (const r of (p.rules || [])) marks.push(Plot.ruleX(r.data, {x: d => d, stroke: r.color, strokeWidth: 2.5, strokeDasharray: "8,4.5", strokeLinecap: "butt", insetTop: 4}));
  marks.push(Plot.frame({stroke: "#000", strokeWidth: 1.6}));
  const tk = {stroke: "#000", strokeWidth: 1.4};
  marks.push(Plot.tickX(xTicks, {x: d => d, insetBottom: fh - 7, ...tk}));
  marks.push(Plot.tickX(xTicks, {x: d => d, insetTop: fh - 7, ...tk}));
  marks.push(Plot.tickY(p.yticks, {y: d => d, insetRight: fw - 7, ...tk}));
  marks.push(Plot.tickY(p.yticks, {y: d => d, insetLeft: fw - 7, ...tk}));
  marks.push(Plot.text(p.ylabels || p.yticks, {y: d => d, text: d => p.fmt(d), frameAnchor: "left", textAnchor: "end", dx: -9, fontSize: 21, fill: "#000"}));
  if (p.bottom) {
    marks.push(Plot.text(xTicks, {x: d => d, text: d => String(d), frameAnchor: "bottom", lineAnchor: "top", dy: 7, fontSize: 22, fill: "#000"}));
    marks.push(Plot.text(["Time [s]"], {text: d => d, frameAnchor: "bottom", lineAnchor: "top", dy: 40, fontSize: 21, fill: "#000"}));
  }
  for (const t of (p.texts || [])) {
    marks.push(Plot.text([t], {x: d => d.t, y: d => d.v, text: d => d.s, textAnchor: t.anchor || "start", lineAnchor: t.line || "bottom",
      fontSize: t.size || 21, fontWeight: t.weight || "normal", fontStyle: t.style || "normal", fill: t.fill || "#000"}));
  }
  const svg = Plot.plot({width: fw + mL + mR, height: fh + mT + mB, marginLeft: mL, marginRight: mR, marginTop: mT, marginBottom: mB,
    x: {domain: X_DOMAIN, axis: null}, y: {domain: p.ydom, axis: null},
    style: {fontFamily: FONT, background: "transparent", overflow: "visible", color: "#000"}, marks});
  svg.style.left = (fl - mL) + "px";
  svg.style.top = (ft - mT) + "px";
  root.appendChild(svg);
}

const panels = [
  {col: 0, row: 0, ydom: [1, 3], yticks: [1, 2, 3], fmt: fInt,
   series: [L(B0_101184, RED), L(B0_101185, BLUE), L(Ip_101184, RED, 3, DOT), L(Ip_101185, BLUE, 3, DOT)],
   texts: [{t: 10.4, v: 2.46, s: "He", weight: "bold", anchor: "middle", line: "middle", size: 22},
           {t: 12.02, v: 1.78, s: "B_{0} (solid)"}, {t: 14.5, v: 1.78, s: "I_{p} (dotted)"}, letter(10.03, 1.18, "a)")]},
  {col: 1, row: 0, ydom: [1, 3], yticks: [1, 2, 3], fmt: fInt,
   series: [L(B0_103598, ORANGE), L(B0_105453, MAG), L(Ip_103598, ORANGE, 3, DOT), L(Ip_105453, MAG, 3, DOT)],
   texts: [{t: 10.24, v: 2.47, s: "D", weight: "bold", anchor: "middle", line: "middle", size: 22},
           {t: 12.01, v: 1.59, s: "B_{0} (solid)"}, {t: 14.46, v: 1.59, s: "I_{p} (dotted)"}, letter(10.15, 1.22, "b)")]},
  {col: 0, row: 1, ydom: [0, 5.65], yticks: [0, 5], fmt: fInt,
   series: [L(PRF_101184, RED), L(PRF_101185, BLUE)],
   texts: [letter(10.02, 0.5, "c)")]},
  {col: 1, row: 1, ydom: [0, 4.48], yticks: [0, 2.5], fmt: f1,
   series: [L(RF_103598, ORANGE), L(RF_105453, MAG), L(NBI_103598, ORANGE, 3, DOT), L(NBI_105453, MAG, 3, DOT)],
   texts: [{t: 12.41, v: 1.55, s: "RF (solid)", line: "middle"}, {t: 14.77, v: 1.55, s: "NBI (dotted)", line: "middle"}, letter(10.03, 0.4, "d)")]},
  {col: 0, row: 2, ydom: [1.22, 4.54], yticks: [2, 4], fmt: fInt,
   series: [L(ne_101184, RED, 3.5), L(ne_101185, BLUE, 3.5)],
   texts: [letter(10.05, 1.58, "e)")]},
  {col: 1, row: 2, ydom: [2.3, 3.7], yticks: [2.5, 3.0, 3.5], fmt: f1,
   series: [L(ne_103598, ORANGE, 3.5), L(ne_105453, MAG, 3.5)],
   texts: [letter(10.1, 2.45, "f)")]},
  {col: 0, row: 3, ydom: [0, 9.87], yticks: [0, 5], fmt: fInt,
   series: [L(Te_101184, RED, 3), L(Te_101185, BLUE, 3), L(Ti_101184, RED, 3, DOT), L(Ti_101185, BLUE, 3, DOT)],
   texts: [{t: 12.02, v: 3.03, s: "T_{e} (solid)"}, {t: 14.49, v: 3.03, s: "T_{i} (dotted)"}, letter(10.05, 1.62, "g)")]},
  {col: 1, row: 3, ydom: [0, 8.41], yticks: [0, 5], fmt: fInt,
   series: [L(Te_103598, ORANGE, 3), L(Te_105453, MAG, 3.5), L(Ti_103598, ORANGE, 3, DOT), L(Ti_105453, MAG, 3, DOT)],
   texts: [{t: 12.0, v: 2.74, s: "T_{e} (solid)"}, {t: 14.48, v: 2.74, s: "T_{i} (dotted)"}, letter(10.1, 1.17, "h)")]},
  {col: 0, row: 4, ydom: [2.5, 7.48], yticks: [2.5, 5.0], fmt: f1,
   series: [L(Z_101184, RED), L(Z_101185, BLUE)],
   texts: [letter(10.05, 3.46, "i)")]},
  {col: 1, row: 4, ydom: [0.98, 5.52], yticks: [2.5, 5.0], fmt: f1,
   series: [L(Z_103598, ORANGE), L(Z_105453, MAG)],
   texts: [letter(10.1, 2.88, "j)")]},
  {col: 0, row: 5, ydom: [0, 3.56], yticks: [0, 2], fmt: fInt,
   series: [L(CH_101184, RED), L(CH_101185, BLUE)],
   texts: [letter(10.05, 0.5, "k)")]},
  {col: 1, row: 5, ydom: [1.0, 4.12], yticks: [2, 4], fmt: fInt,
   series: [L(CH_103598, ORANGE), L(CH_105453, MAG)],
   texts: [letter(10.14, 1.47, "l)")]},
  {col: 0, row: 6, ydom: [0, 8.03], yticks: [0, 5], fmt: fInt, bottom: true,
   series: [L(Rn_91667, GRAY, 3.5), L(Rn_101184, RED, 3.5), L(Rn_101185, BLUE, 3.5)],
   rules: [{data: mDashRed, color: RED}, {data: mDashBlue, color: BLUE}],
   texts: [{t: 11.41, v: 2.2, s: "#91667", weight: "bold", size: 22, fill: GRAY, line: "middle"}, letter(10.06, 3.0, "m)")]},
  {col: 1, row: 6, ydom: [0, 10.95], yticks: [0, 10], fmt: fInt, bottom: true,
   series: [L(Rn_103598, ORANGE, 3), L(Rn_105453, MAG, 3.5)],
   rules: [{data: nDashMag, color: MAG}],
   texts: [letter(10.12, 2.29, "n)")]}
];
panels.forEach(drawPanel);

// ---------- legend (top) ----------
const legendItems = [
  {x1: 176, x2: 227, tx: 246, c: RED, s: shots[0]},
  {x1: 405, x2: 456, tx: 475, c: BLUE, s: shots[1]},
  {x1: 767, x2: 818, tx: 838, c: ORANGE, s: shots[2]},
  {x1: 998, x2: 1049, tx: 1068, c: MAG, s: shots[3]}
];
const leg = document.createElementNS(NS, "svg");
leg.setAttribute("width", 1239); leg.setAttribute("height", 30);
leg.style.left = "0px"; leg.style.top = "0px";
for (const it of legendItems) {
  const ln = document.createElementNS(NS, "line");
  ln.setAttribute("x1", it.x1); ln.setAttribute("x2", it.x2); ln.setAttribute("y1", 13); ln.setAttribute("y2", 13);
  ln.setAttribute("stroke", it.c); ln.setAttribute("stroke-width", 3);
  leg.appendChild(ln);
  const tx = document.createElementNS(NS, "text");
  tx.setAttribute("x", it.tx); tx.setAttribute("y", 13); tx.setAttribute("dominant-baseline", "central");
  tx.setAttribute("font-family", FONT); tx.setAttribute("font-size", 22); tx.setAttribute("font-weight", "bold");
  tx.textContent = it.s;
  leg.appendChild(tx);
}
root.appendChild(leg);

// ---------- y-axis titles (left column) ----------
const yTitles = [
  {row: 0, l1: "B_{0} \\ I_{p}", l2: "[T \\ MA]", b1: 47, b2: 76},
  {row: 1, l1: "P_{RF}", l2: "[MW]", b1: 47, b2: 76},
  {row: 2, l1: "n_{e}~{dl}", l2: "[10^{19} m^{−2}]", b1: 47, b2: 76},
  {row: 3, l1: "T", l2: "[keV]", b1: 47, b2: 76},
  {row: 4, l1: "ZEFF", l2: "[]", b1: 29, b2: 57},
  {row: 5, l1: "C_{H}", l2: "[%]", b1: 47, b2: 76},
  {row: 6, l1: "R_{n}", l2: "[10^{13} s^{−1}]", b1: 47, b2: 76}
];
const ys = document.createElementNS(NS, "svg");
ys.setAttribute("width", 110); ys.setAttribute("height", 897);
ys.style.left = "0px"; ys.style.top = "0px";
for (const yt of yTitles) {
  const cy = (ROWS[yt.row][0] + ROWS[yt.row][1]) / 2;
  for (const [s, b] of [[yt.l1, yt.b1], [yt.l2, yt.b2]]) {
    const tx = document.createElementNS(NS, "text");
    tx.setAttribute("transform", `translate(${b},${cy}) rotate(-90)`);
    tx.setAttribute("text-anchor", "middle");
    tx.setAttribute("font-family", FONT); tx.setAttribute("font-size", 20);
    tx.textContent = s;
    ys.appendChild(tx);
  }
}
root.appendChild(ys);

// ---------- rich text (sub/superscripts, italics) ----------
function richify(el) {
  const s = el.textContent;
  if (!/[_^~]\{/.test(s)) return;
  const fs = parseFloat(getComputedStyle(el).fontSize) || 20;
  el.textContent = "";
  const re = /([_^~])\{([^}]*)\}/g;
  let last = 0, m, cur = 0;
  const add = (txt, kind) => {
    if (!txt) return;
    const ts = document.createElementNS(NS, "tspan");
    ts.textContent = txt;
    const target = kind === "_" ? 0.25 * fs : kind === "^" ? -0.4 * fs : 0;
    if (Math.abs(target - cur) > 1e-6) { ts.setAttribute("dy", (target - cur).toFixed(2)); cur = target; }
    if (kind === "_" || kind === "^") ts.setAttribute("font-size", (0.7 * fs).toFixed(1));
    if ((kind === "_" && /[A-Za-z]/.test(txt)) || kind === "~") ts.setAttribute("font-style", "italic");
    el.appendChild(ts);
  };
  while ((m = re.exec(s)) !== null) { add(s.slice(last, m.index), ""); add(m[2], m[1]); last = re.lastIndex; }
  add(s.slice(last), "");
}
root.querySelectorAll("text").forEach(richify);

// ---------- boxed species labels ----------
root.querySelectorAll("text").forEach(el => {
  const c = el.textContent;
  if (c === "He" || c === "D") {
    const bb = el.getBBox();
    const r = document.createElementNS(NS, "rect");
    r.setAttribute("x", bb.x - 4); r.setAttribute("y", bb.y + 1);
    r.setAttribute("width", bb.width + 8); r.setAttribute("height", bb.height - 1);
    r.setAttribute("fill", "#fff"); r.setAttribute("stroke", "#000"); r.setAttribute("stroke-width", 1.5);
    const tr = el.getAttribute("transform"); if (tr) r.setAttribute("transform", tr);
    el.parentNode.insertBefore(r, el);
  }
});
</script></body></html>
